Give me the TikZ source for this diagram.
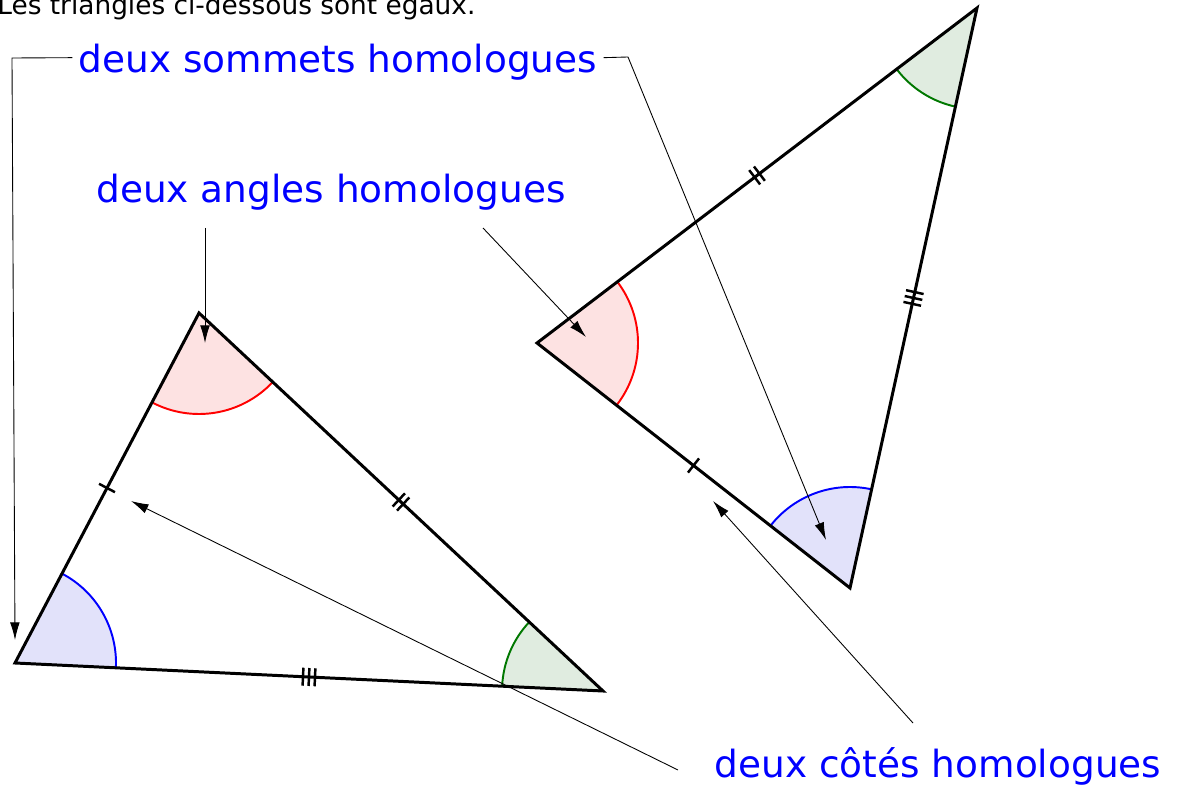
\documentclass[tikz,border=0pt]{standalone}
\usepackage{fontspec}
\setmainfont{DejaVu Sans}
\usetikzlibrary{arrows.meta, angles, decorations.markings}

\definecolor{rosefill}{RGB}{253,226,226}
\definecolor{bleufill}{RGB}{226,226,250}
\definecolor{vertfill}{RGB}{224,236,224}
\definecolor{vertarc}{RGB}{0,120,0}

\begin{document}
\begin{tikzpicture}[
    x=0.2mm, y=0.2mm,
    arr/.style={-{Latex[length=10pt, width=5.5pt]}, line width=0.5pt},
    side/.style={line width=1.7pt, line join=miter},
    tag/.style={text=blue, font=\fontsize{21.3}{25}\selectfont, anchor=base,
        inner ysep=1pt, inner xsep=3.5pt},
    angR/.style={draw=red, fill=rosefill, line width=1.1pt, angle radius=20.2mm},
    angB/.style={draw=blue, fill=bleufill, line width=1.1pt, angle radius=20.2mm},
    angV/.style={draw=vertarc, fill=vertfill, line width=1.1pt, angle radius=20.2mm},
    tickline/.style={line width=1.4pt},
    barone/.style={postaction={decorate, decoration={markings,
        mark=at position 0.5 with {\draw[tickline] (0,-1.8mm) -- (0,1.8mm);}}}},
    bartwo/.style={postaction={decorate, decoration={markings,
        mark=at position 0.5 with {\draw[tickline] (-0.6mm,-1.8mm) -- (-0.6mm,1.8mm)
            (0.6mm,-1.8mm) -- (0.6mm,1.8mm);}}}},
    barthree/.style={postaction={decorate, decoration={markings,
        mark=at position 0.5 with {\draw[tickline] (-1.2mm,-1.8mm) -- (-1.2mm,1.8mm)
            (0,-1.8mm) -- (0,1.8mm) (1.2mm,-1.8mm) -- (1.2mm,1.8mm);}}}},
]
    \useasboundingbox (0,0) rectangle (1177,789);

    % Sommets des deux triangles
    \coordinate (A) at (199,476);
    \coordinate (B) at (15,126);
    \coordinate (C) at (603,98);
    \coordinate (D) at (977,781);
    \coordinate (E) at (537,446);
    \coordinate (F) at (850,201);

    % Angles
    \pic[angR] {angle = B--A--C};
    \pic[angB] {angle = C--B--A};
    \pic[angV] {angle = A--C--B};
    \pic[angR] {angle = F--E--D};
    \pic[angB] {angle = D--F--E};
    \pic[angV] {angle = E--D--F};

    % Triangles et codage des côtés
    \draw[side] (A) -- (B) -- (C) -- cycle;
    \draw[side] (D) -- (E) -- (F) -- cycle;
    \path[barone]   (A) -- (B);
    \path[bartwo]   (A) -- (C);
    \path[barthree] (B) -- (C);
    \path[barone]   (E) -- (F);
    \path[bartwo]   (D) -- (E);
    \path[barthree] (D) -- (F);

    % Textes
    \node[anchor=base west, inner sep=0, font=\fontsize{15}{18}\selectfont] (titre)
        at (-3,774) {Les triangles ci-dessous sont égaux.};
    \node[tag] (sommets) at (338,716) {deux sommets homologues};
    \node[tag] (angles)  at (331,586) {deux angles homologues};
    \node[tag] (cotes)   at (938,12)  {deux côtés homologues};

    % Flèches
    \coordinate (bendL) at (12,731);
    \coordinate (tipB)  at (15,149);
    \coordinate (bendR) at (628,732);
    \coordinate (tipF)  at (826,249);
    \draw[arr] ([yshift=1mm]sommets.west) -- (bendL) -- (tipB);
    \draw[arr] ([yshift=1mm]sommets.east) -- (bendR) -- (tipF);

    \coordinate (startA) at (205,561);
    \coordinate (tipA)   at (205,446);
    \coordinate (startE) at (483,561);
    \coordinate (tipE)   at (586,452);
    \draw[arr] (startA) -- (tipA);
    \draw[arr] (startE) -- (tipE);

    \coordinate (startL) at (678,19);
    \coordinate (tipAB)  at (131,288);
    \coordinate (startR) at (913,66);
    \coordinate (tipEF)  at (713,288);
    \draw[arr] (startL) -- (tipAB);
    \draw[arr] (startR) -- (tipEF);

\end{tikzpicture}
\end{document}
